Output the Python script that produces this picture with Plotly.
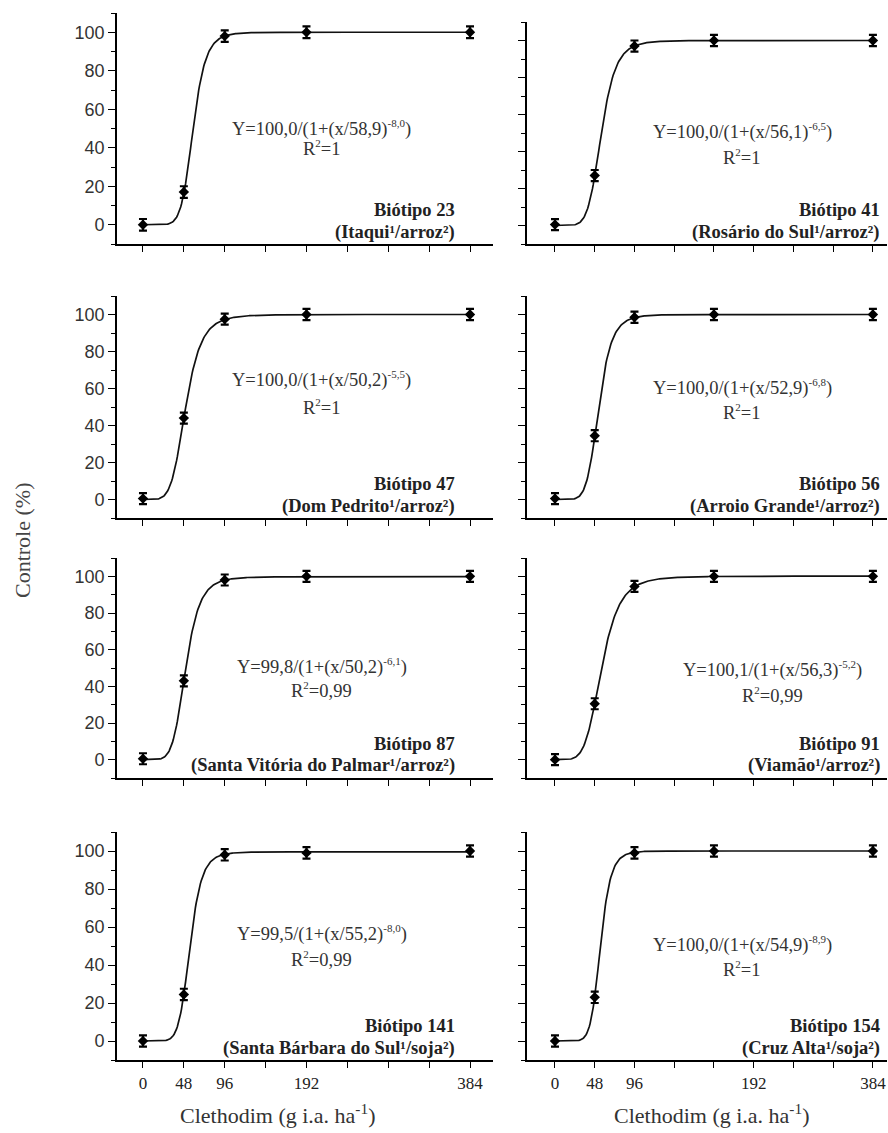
import numpy as np
import plotly.graph_objects as go

# ---------------- data ----------------
doses = [0, 48, 96, 192, 384]
biotypes = ["23", "41", "47", "56", "87", "91", "141", "154"]
places = ["Itaqui¹/arroz²", "Rosário do Sul¹/arroz²", "Dom Pedrito¹/arroz²",
          "Arroio Grande¹/arroz²", "Santa Vitória do Palmar¹/arroz²", "Viamão¹/arroz²",
          "Santa Bárbara do Sul¹/soja²", "Cruz Alta¹/soja²"]
ctrl_23 = [0.0, 17.0, 98.0, 100.0, 100.0]
ctrl_41 = [0.5, 27.0, 97.0, 100.0, 100.0]
ctrl_47 = [0.5, 44.0, 97.5, 100.0, 100.0]
ctrl_56 = [0.5, 34.5, 98.5, 100.0, 100.0]
ctrl_87 = [0.5, 43.0, 98.0, 100.0, 100.0]
ctrl_91 = [0.0, 30.5, 94.5, 100.0, 100.0]
ctrl_141 = [0.0, 24.5, 98.0, 99.0, 100.0]
ctrl_154 = [0.0, 23.0, 99.0, 100.0, 100.0]
controls = [ctrl_23, ctrl_41, ctrl_47, ctrl_56, ctrl_87, ctrl_91, ctrl_141, ctrl_154]
err_bar = [3.0, 3.0, 3.0, 3.0, 3.0]
# fitted log-logistic parameters  Y = a/(1+(x/b)^-c)
fit_a = [100.0, 100.0, 100.0, 100.0, 99.8, 100.1, 99.5, 100.0]
fit_b = [58.9, 56.1, 50.2, 52.9, 50.2, 56.3, 55.2, 54.9]
fit_c = [8.0, 6.5, 5.5, 6.8, 6.1, 5.2, 8.0, 8.9]
fit_txt_a = ["100,0", "100,0", "100,0", "100,0", "99,8", "100,1", "99,5", "100,0"]
fit_txt_b = ["58,9", "56,1", "50,2", "52,9", "50,2", "56,3", "55,2", "54,9"]
fit_txt_c = ["-8,0", "-6,5", "-5,5", "-6,8", "-6,1", "-5,2", "-8,0", "-8,9"]
r2_txt = ["1", "1", "1", "1", "0,99", "0,99", "0,99", "1"]
x_tick_vals = [0, 48, 96, 144, 192, 240, 288, 336, 384]
x_label_vals_left = [0, 48, 96, 192, 384]
x_label_vals_right = [0, 48, 96, 240, 384]
x_labels = ["0", "48", "96", "192", "384"]

# ---------------- layout helpers ----------------
W, H = 888, 1133
SERIF = "Liberation Serif, Times New Roman, serif"
SANS = "Liberation Sans, Arial, sans-serif"

# pixel boxes (left, right, top, bottom)
col_x = [(117, 493), (527, 887)]
row_y = [[(13, 244), (22, 244)], [(296, 518), (296, 518)],
         [(558, 778), (558, 778)], [(832, 1060), (832, 1060)]]
x_ranges = [[-30.5, 411], [-33.8, 401]]
eq_pos = [(210, 50, 40), (226, 51, 37), (210, 65, 50), (226, 60.5, 47.5),
          (210, 51, 38), (263, 49, 35), (210, 56.5, 43), (226, 51, 38)]

fig = go.Figure()
annotations = []
xcurve = np.linspace(0, 384, 400)

for i in range(8):
    r, c = divmod(i, 2)
    n = i + 1
    xa = "x" if n == 1 else f"x{n}"
    ya = "y" if n == 1 else f"y{n}"
    a, b, k = fit_a[i], fit_b[i], fit_c[i]
    ycurve = np.where(xcurve > 0, a / (1 + (np.maximum(xcurve, 1e-9) / b) ** (-k)), 0.0)
    fig.add_trace(go.Scatter(x=xcurve, y=ycurve, mode="lines",
                             line=dict(color="#111", width=1.7),
                             xaxis=xa, yaxis=ya, showlegend=False, hoverinfo="skip"))
    fig.add_trace(go.Scatter(x=doses, y=controls[i], mode="markers",
                             marker=dict(symbol="diamond", size=8, color="#000"),
                             error_y=dict(type="data", array=err_bar, color="#000",
                                          thickness=2.2, width=4),
                             xaxis=xa, yaxis=ya, showlegend=False))
    x0, x1 = col_x[c]
    t, bt = row_y[r][c]
    xkey = "xaxis" if n == 1 else f"xaxis{n}"
    ykey = "yaxis" if n == 1 else f"yaxis{n}"
    bottom = (r == 3)
    fig.update_layout({
        xkey: dict(domain=[x0 / W, x1 / W], range=x_ranges[c], anchor=ya,
                   tickmode="array",
                   tickvals=x_label_vals_left if c == 0 else x_label_vals_right,
                   ticktext=x_labels, showticklabels=bottom,
                   ticks="outside", ticklen=6, tickwidth=1.3, tickcolor="#000",
                   minor=dict(tickmode="array", tickvals=x_tick_vals, ticks="outside",
                              ticklen=6, tickwidth=1.3, tickcolor="#000"),
                   ticklabelstandoff=1,
                   showline=True, linecolor="#000", linewidth=1.6,
                   showgrid=False, zeroline=False,
                   tickfont=dict(family=SERIF, size=17, color="#222")),
        ykey: dict(domain=[1 - bt / H, 1 - t / H], range=[-10, 110], anchor=xa,
                   tickmode="linear", tick0=0, dtick=20,
                   ticks="outside", ticklen=7, tickwidth=1.3, tickcolor="#000",
                   minor=dict(dtick=10, tick0=0, ticks="outside", ticklen=4,
                              tickcolor="#000", tickwidth=1.1),
                   showticklabels=(c == 0),
                   showline=True, linecolor="#000", linewidth=1.6,
                   showgrid=False, zeroline=False,
                   tickfont=dict(family=SANS, size=18, color="#333")),
    })
    ex, ey, ry = eq_pos[i]
    annotations.append(dict(
        x=ex, y=ey, xref=xa, yref=ya, showarrow=False,
        text=(f"Y={fit_txt_a[i]}/(1+(x/{fit_txt_b[i]})"
              f"<sup><span style='font-size:11px'>{fit_txt_c[i]}</span></sup>)"),
        font=dict(family=SERIF, size=18.5, color="#333")))
    annotations.append(dict(
        x=ex, y=ry, xref=xa, yref=ya, showarrow=False,
        text=f"R<sup><span style='font-size:11px'>2</span></sup>={r2_txt[i]}",
        font=dict(family=SERIF, size=18.5, color="#333")))
    xr = 0.904 if c == 0 else 0.986
    hpx = bt - t
    annotations.append(dict(
        x=xr, y=34 / hpx, xref=f"{xa} domain", yref=f"{ya} domain",
        xanchor="right", yanchor="middle", showarrow=False,
        text=f"<b>Biótipo {biotypes[i]}</b>",
        font=dict(family=SERIF, size=18.5, color="#222")))
    annotations.append(dict(
        x=xr, y=12 / hpx, xref=f"{xa} domain", yref=f"{ya} domain",
        xanchor="right", yanchor="middle", showarrow=False,
        text=f"<b>({places[i]})</b>",
        font=dict(family=SERIF, size=18.5, color="#222")))

annotations.append(dict(x=22 / W, y=1 - 541 / H, xref="paper", yref="paper",
                        xanchor="center", yanchor="middle",
                        text="Controle (%)", textangle=-90, showarrow=False,
                        font=dict(family=SERIF, size=22, color="#444")))
for cx in (278, 712):
    annotations.append(dict(x=cx / W, y=1 - 1114 / H, xref="paper", yref="paper",
                            xanchor="center", yanchor="middle",
                            text="Clethodim (g i.a. ha<sup>-1</sup>)", showarrow=False,
                            font=dict(family=SERIF, size=22, color="#333")))

fig.update_layout(width=W, height=H, margin=dict(l=0, r=0, t=0, b=0),
                  paper_bgcolor="white", plot_bgcolor="white",
                  annotations=annotations, showlegend=False)
fig.write_html("out.html", config={"displayModeBar": False},
               post_script="document.body.style.margin='0';document.body.style.overflow='hidden';")
